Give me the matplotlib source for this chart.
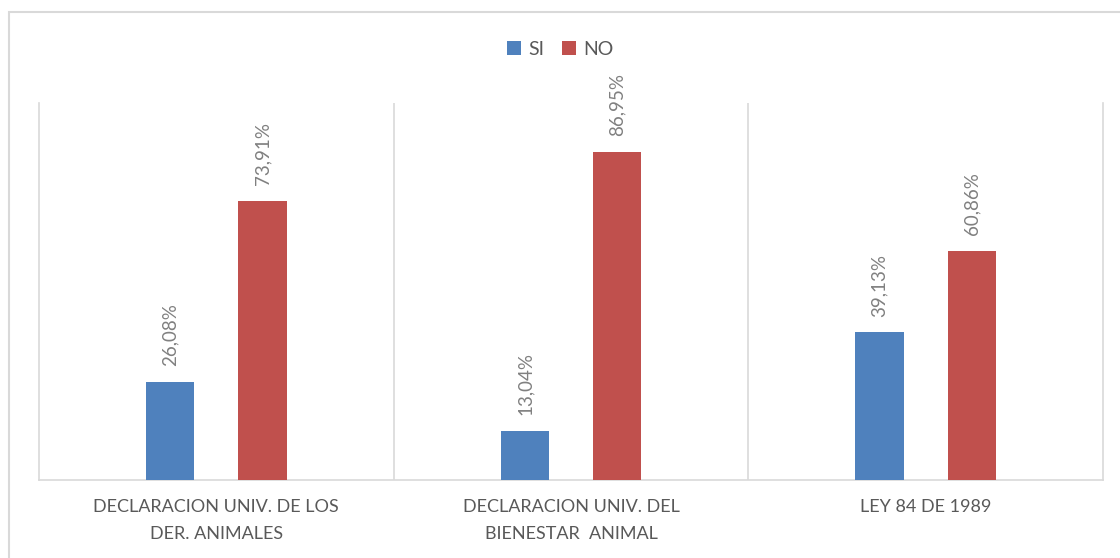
import matplotlib
matplotlib.use("Agg")
import matplotlib.pyplot as plt
from matplotlib.patches import Patch, Rectangle

categories = ["DECLARACION UNIV. DE LOS\nDER. ANIMALES",
              "DECLARACION UNIV. DEL\nBIENESTAR  ANIMAL",
              "LEY 84 DE 1989"]
series_names = ["SI", "NO"]
si_values = [26.08, 13.04, 39.13]
no_values = [73.91, 86.95, 60.86]
colors = ["#4F81BD", "#C0504D"]

plt.rcParams['font.family'] = ['Lato', 'DejaVu Sans']

W, H = 1120, 558
fig = plt.figure(figsize=(W / 100, H / 100), dpi=100)
fig.patch.set_facecolor("white")

# outer chart frame
fig.patches.append(Rectangle((9 / W, -0.2), 2, (1 - 12 / H) + 0.2,
                             transform=fig.transFigure, fill=False,
                             edgecolor="#d9d9d9", lw=1.5))

left, right, top, bottom = 39, 1103, 103, 480
ax = fig.add_axes([left / W, 1 - bottom / H, (right - left) / W, (bottom - top) / H])

x = list(range(len(categories)))
off = 0.13
bw = 0.136
b1 = ax.bar([i - off for i in x], si_values, width=bw, color=colors[0], zorder=3)
b2 = ax.bar([i + off for i in x], no_values, width=bw, color=colors[1], zorder=3)

for bars, vals in ((b1, si_values), (b2, no_values)):
    for rect, v in zip(bars, vals):
        ax.annotate(f"{v:.2f}%".replace(".", ","),
                    (rect.get_x() + rect.get_width() / 2, v),
                    xytext=(0, 11.5), textcoords="offset points",
                    rotation=90, ha="center", va="bottom",
                    fontsize=13.5, color="#808080")

ax.set_xlim(-0.5, 2.5)
ax.set_ylim(0, 100)
ax.set_yticks([])
ax.set_xticks(x)
ax.set_xticklabels(categories, fontsize=13, color="#595959", linespacing=1.85)
ax.tick_params(axis="x", length=0, pad=14)
for s in ("left", "right", "bottom"):
    ax.spines[s].set_color("#d9d9d9")
    ax.spines[s].set_linewidth(1.2)
ax.spines["top"].set_visible(False)
for sep in (0.5, 1.5):
    ax.axvline(sep, color="#d9d9d9", lw=1.2, zorder=1)

handles = [Patch(facecolor=c, label=n) for c, n in zip(colors, series_names)]
leg = fig.legend(handles=handles, loc="center", bbox_to_anchor=(0.5, 1 - 49 / H),
                 ncol=2, frameon=False, fontsize=14, handlelength=0.75,
                 handleheight=0.75, columnspacing=0.9, handletextpad=0.35)
for t in leg.get_texts():
    t.set_color("#595959")

fig.savefig("out.png", dpi=100, facecolor="white")
